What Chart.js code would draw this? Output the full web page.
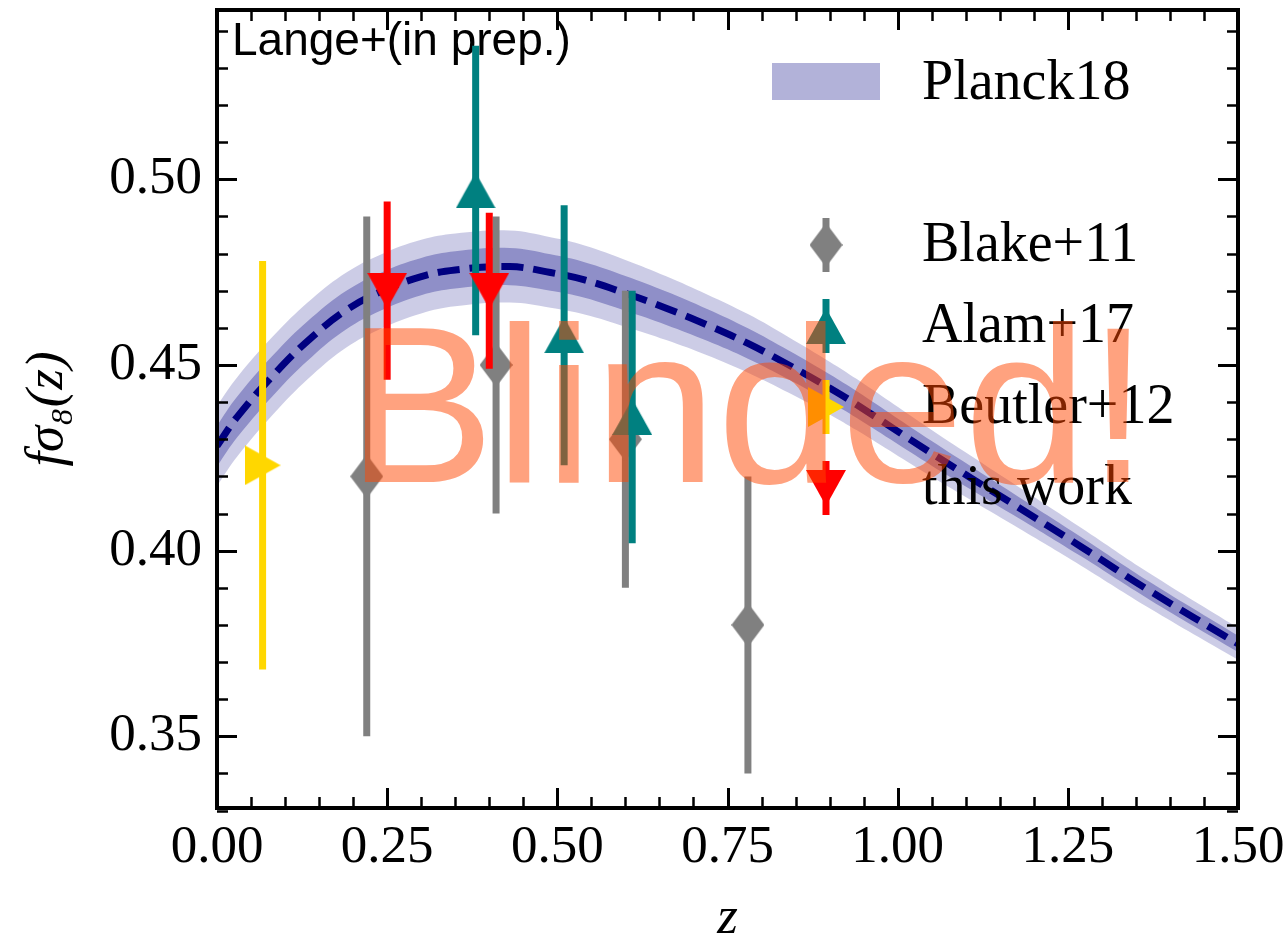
<!DOCTYPE html>
<html>
<head>
<meta charset="utf-8">
<script src="https://cdn.jsdelivr.net/npm/chart.js@4.4.1/dist/chart.umd.min.js"></script>
<style>
  html, body { margin: 0; padding: 0; background: #fff; }
  canvas { display: block; }
</style>
</head>
<body>
<canvas id="theChart" width="1286" height="936"></canvas>
<script>
// Planck18 prediction (dashed line) with 1 and 2 sigma half widths
var planckZ    = [0.00, 0.03, 0.09, 0.14, 0.19, 0.24, 0.30, 0.35, 0.43, 0.49, 0.54, 0.60, 0.66, 0.72, 0.78, 0.84, 0.90, 0.94, 1.05, 1.17, 1.27, 1.37, 1.50];
var planckMean = [0.4282, 0.4361, 0.4487, 0.4576, 0.4648, 0.4697, 0.4738, 0.4756, 0.4765, 0.4749, 0.4729, 0.4693, 0.4653, 0.4608, 0.4558, 0.4500, 0.4438, 0.4393, 0.4262, 0.4125, 0.4010, 0.3892, 0.3749];
var planckSig1 = [0.0055, 0.0055, 0.0054, 0.0053, 0.0052, 0.0051, 0.0050, 0.0050, 0.0050, 0.0049, 0.0048, 0.0047, 0.0045, 0.0043, 0.0041, 0.0039, 0.0037, 0.0036, 0.0033, 0.0029, 0.0026, 0.0024, 0.0022];
var planckSig2 = [0.0108, 0.0107, 0.0105, 0.0103, 0.0101, 0.0100, 0.0099, 0.0098, 0.0097, 0.0095, 0.0093, 0.0090, 0.0086, 0.0082, 0.0079, 0.0075, 0.0071, 0.0069, 0.0063, 0.0056, 0.0051, 0.0047, 0.0043];

// measurements
var blakeZ = [0.22, 0.41, 0.60, 0.78];
var blakeF = [0.42, 0.45, 0.43, 0.38];
var blakeErr = [0.07, 0.04, 0.04, 0.04];

var alamZ = [0.38, 0.51, 0.61];
var alamF = [0.497, 0.458, 0.436];
var alamErr = [0.039, 0.035, 0.034];

var beutlerZ = [0.067];
var beutlerF = [0.423];
var beutlerErr = [0.055];

var thisZ = [0.25, 0.40];
var thisF = [0.470, 0.470];
var thisErr = [0.024, 0.021];

var xTicks = [0.00, 0.25, 0.50, 0.75, 1.00, 1.25, 1.50];
var yTicks = [0.35, 0.40, 0.45, 0.50];

var NAVY = 'rgb(0,0,128)', GRAY = 'rgb(128,128,128)', TEAL = 'rgb(0,128,128)', RED = 'rgb(255,0,0)', GOLD = 'rgb(255,215,0)';
var SERIF = '"Liberation Serif", "DejaVu Serif", serif';
var SANS = '"Liberation Sans", Arial, sans-serif';

// marker images, centred on their bounding box like matplotlib markers
function makeMarker(shape, color) {
    var c = document.createElement('canvas');
    var w = 40, h = 36;
    if (shape == 'diamond') { w = 33; h = 44; }
    if (shape == 'right') { w = 36; h = 40; }
    c.width = w; c.height = h;
    var g = c.getContext('2d');
    g.fillStyle = color;
    g.beginPath();
    if (shape == 'diamond') { g.moveTo(w / 2, 0); g.lineTo(w, h / 2); g.lineTo(w / 2, h); g.lineTo(0, h / 2); }
    if (shape == 'up') { g.moveTo(w / 2, 0); g.lineTo(w, h); g.lineTo(0, h); }
    if (shape == 'down') { g.moveTo(0, 0); g.lineTo(w, 0); g.lineTo(w / 2, h); }
    if (shape == 'right') { g.moveTo(0, 0); g.lineTo(w, h / 2); g.lineTo(0, h); }
    g.closePath();
    g.fill();
    return c;
}

var markers = {
    blake: makeMarker('diamond', GRAY),
    alam: makeMarker('up', TEAL),
    beutler: makeMarker('right', GOLD),
    thiswork: makeMarker('down', RED)
};

function bandEdge(sig, sign) {
    return planckZ.map(function (z, i) { return { x: z, y: planckMean[i] + sign * sig[i] }; });
}

var datasets = [];
datasets.push({ data: bandEdge(planckSig2, 1), fill: '+1', backgroundColor: 'rgba(0,0,128,0.2)', borderWidth: 0, pointRadius: 0, tension: 0.4, order: 100 });
datasets.push({ data: bandEdge(planckSig2, -1), fill: false, borderWidth: 0, pointRadius: 0, tension: 0.4, order: 99 });
datasets.push({ data: bandEdge(planckSig1, 1), fill: '+1', backgroundColor: 'rgba(0,0,128,0.3)', borderWidth: 0, pointRadius: 0, tension: 0.4, order: 98 });
datasets.push({ data: bandEdge(planckSig1, -1), fill: false, borderWidth: 0, pointRadius: 0, tension: 0.4, order: 97 });
datasets.push({
    data: planckZ.map(function (z, i) { return { x: z, y: planckMean[i] }; }),
    borderColor: NAVY, borderWidth: 7, borderDash: [22, 10], pointRadius: 0, fill: false,
    tension: 0.4, order: 90
});

function addPoints(zs, fs, errs, color, marker, order) {
    for (var i = 0; i < zs.length; i++) {
        datasets.push({
            data: [{ x: zs[i], y: fs[i] - errs[i] }, { x: zs[i], y: fs[i] + errs[i] }],
            borderColor: color, borderWidth: 7, pointRadius: 0, fill: false, order: order + 1
        });
    }
    datasets.push({
        data: zs.map(function (z, i) { return { x: z, y: fs[i] }; }),
        showLine: false, pointStyle: marker, pointRadius: 20, order: order
    });
}
addPoints(blakeZ, blakeF, blakeErr, GRAY, markers.blake, 40);
addPoints(alamZ, alamF, alamErr, TEAL, markers.alam, 30);
addPoints(beutlerZ, beutlerF, beutlerErr, GOLD, markers.beutler, 20);
addPoints(thisZ, thisF, thisErr, RED, markers.thiswork, 10);

// legend rows (handled by the plugin below)
var legendLabels = ['Blake+11', 'Alam+17', 'Beutler+12', 'this work'];
var legendColors = [GRAY, TEAL, GOLD, RED];
var legendMarkers = [markers.blake, markers.alam, markers.beutler, markers.thiswork];

var decor = {
    id: 'decor',
    beforeDatasetsDraw: function (chart) {
        var ctx = chart.ctx;
        ctx.save();
        ctx.fillStyle = '#000';
        ctx.font = '46px ' + SANS;
        ctx.textBaseline = 'alphabetic';
        ctx.textAlign = 'left';
        ctx.fillText('Lange+(in prep.)', 232, 55);
        ctx.restore();
    },
    afterDatasetsDraw: function (chart) {
        var ctx = chart.ctx, a = chart.chartArea, xs = chart.scales.x, ys = chart.scales.y;
        ctx.save();
        ctx.strokeStyle = '#000';
        ctx.lineCap = 'butt';
        var i, v, p, len;
        for (i = 0; i <= 30; i++) {
            v = i * 0.05;
            p = Math.round(xs.getPixelForValue(v)) + 0.5;
            len = (i % 5 == 0) ? 20 : 11;
            ctx.lineWidth = (i % 5 == 0) ? 3 : 2.5;
            ctx.beginPath();
            ctx.moveTo(p, a.bottom); ctx.lineTo(p, a.bottom - len);
            ctx.moveTo(p, a.top); ctx.lineTo(p, a.top + len);
            ctx.stroke();
        }
        for (i = 33; i <= 54; i++) {
            v = i * 0.01;
            p = Math.round(ys.getPixelForValue(v)) + 0.5;
            len = (i % 5 == 0) ? 20 : 11;
            ctx.lineWidth = (i % 5 == 0) ? 3 : 2.5;
            ctx.beginPath();
            ctx.moveTo(a.left, p); ctx.lineTo(a.left + len, p);
            ctx.moveTo(a.right, p); ctx.lineTo(a.right - len, p);
            ctx.stroke();
        }
        ctx.lineWidth = 4;
        ctx.strokeRect(a.left, a.top, a.right - a.left, a.bottom - a.top);

        // legend
        ctx.fillStyle = 'rgba(0,0,128,0.3)';
        ctx.fillRect(772, 63, 108, 37);
        ctx.fillStyle = '#000';
        ctx.font = '56px ' + SERIF;
        ctx.textAlign = 'left';
        ctx.textBaseline = 'alphabetic';
        ctx.fillText('Planck18', 922, 99);
        for (i = 0; i < legendLabels.length; i++) {
            var cy = 245 + i * 81;
            ctx.strokeStyle = legendColors[i];
            ctx.lineWidth = 7;
            ctx.beginPath();
            ctx.moveTo(826, cy - 27); ctx.lineTo(826, cy + 27);
            ctx.stroke();
            var m = legendMarkers[i];
            ctx.drawImage(m, 826 - m.width / 2, cy - m.height / 2);
            ctx.fillStyle = '#000';
            ctx.fillText(legendLabels[i], 922, cy + 16);
        }
        ctx.restore();
    },
    afterDraw: function (chart) {
        var ctx = chart.ctx, xs = chart.scales.x, ys = chart.scales.y;
        ctx.save();
        ctx.fillStyle = 'rgba(255,69,0,0.5)';
        ctx.font = '222px ' + SANS;
        ctx.textAlign = 'center';
        ctx.textBaseline = 'alphabetic';
        ctx.fillText('Blinded!', xs.getPixelForValue(0.78), ys.getPixelForValue(0.4185));
        ctx.restore();
    }
};

function noPadding(scale) {
    scale.paddingTop = 0; scale.paddingBottom = 0;
    scale.paddingLeft = 0; scale.paddingRight = 0;
}

var ctx = document.getElementById('theChart').getContext('2d');
var chart = new Chart(ctx, {
    type: 'line',
    data: { datasets: datasets },
    plugins: [decor],
    options: {
        responsive: false,
        animation: false,
        devicePixelRatio: 1,
        layout: { autoPadding: false, padding: { top: 10, right: 48, left: 0, bottom: 0 } },
        plugins: { legend: { display: false }, tooltip: { enabled: false } },
        scales: {
            x: {
                type: 'linear', min: 0, max: 1.5,
                grid: { display: false }, border: { display: false },
                afterBuildTicks: function (scale) { scale.ticks = xTicks.map(function (v) { return { value: v }; }); },
                afterFit: function (scale) { scale.height = 128; noPadding(scale); },
                ticks: {
                    color: '#000', padding: 0, maxRotation: 0, autoSkip: false,
                    font: { family: SERIF, size: 53 },
                    callback: function (v) { return Number(v).toFixed(2); }
                },
                title: { display: true, text: 'z', color: '#000', font: { family: SERIF, size: 53, style: 'italic', lineHeight: 1 }, padding: { top: 0, bottom: -10 } }
            },
            y: {
                type: 'linear', min: 0.3307, max: 0.5456,
                grid: { display: false }, border: { display: false },
                afterBuildTicks: function (scale) { scale.ticks = yTicks.map(function (v) { return { value: v }; }); },
                afterFit: function (scale) { scale.width = 217; noPadding(scale); },
                ticks: {
                    color: '#000', padding: 7, autoSkip: false,
                    font: { family: SERIF, size: 53 },
                    callback: function (v) { return Number(v).toFixed(2); }
                },
                title: { display: true, text: 'fσ₈(z)', color: '#000', font: { family: SERIF, size: 53, style: 'italic', lineHeight: 1 }, padding: { top: 22, bottom: 0 } }
            }
        }
    }
});
</script>
</body>
</html>
